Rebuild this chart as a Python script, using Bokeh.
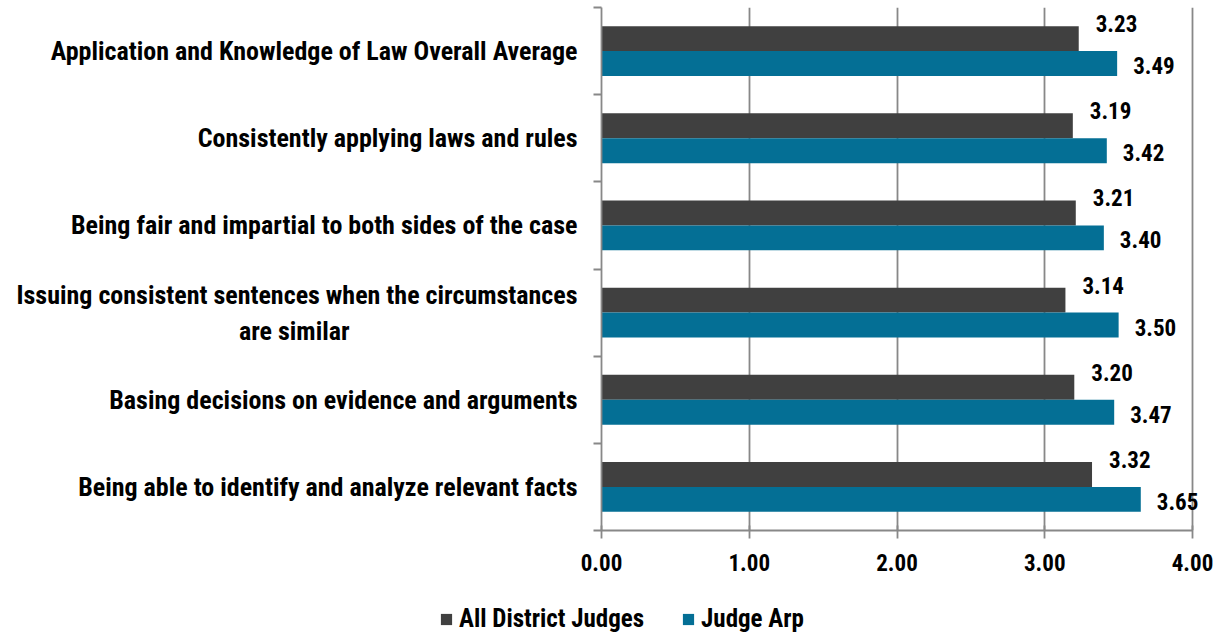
from bokeh.plotting import figure
from bokeh.models import (Range1d, FixedTicker, ColumnDataSource, LabelSet,
                          Legend, LegendItem, NumeralTickFormatter)
from bokeh.core.properties import value
from bokeh.embed import file_html
from bokeh.resources import INLINE

categories = [
    "Application and Knowledge of Law Overall Average",
    "Consistently applying laws and rules",
    "Being fair and impartial to both sides of the case",
    "Issuing consistent sentences when the circumstances\nare similar" + "\u2003" * 10,
    "Basing decisions on evidence and arguments",
    "Being able to identify and analyze relevant facts",
]
all_district = [3.23, 3.19, 3.21, 3.14, 3.20, 3.32]
judge_arp = [3.49, 3.42, 3.40, 3.50, 3.47, 3.65]
series_names = ["All District Judges", "Judge Arp"]
x_ticks = [0, 1, 2, 3, 4]

FONT = "Roboto Condensed"
DARK = "#404040"
TEAL = "#046F95"
GRID = "#888888"

n = len(categories)
centers = [n - i - 0.5 for i in range(n)]
bar_h = 0.286

# frame spans 601..1222 px; the 0..4 scale covers 601..1192 px, labels may run past 4.00
LEFT, AXIS_RIGHT, W = 601, 1192, 1222
x_max = x_ticks[-1] * (W - LEFT) / (AXIS_RIGHT - LEFT)

p = figure(width=W, height=583, output_backend="svg", toolbar_location=None,
           x_range=Range1d(0, x_max), y_range=Range1d(0, n),
           min_border_left=LEFT, min_border_right=0, min_border_top=7, min_border_bottom=53)
p.outline_line_color = None
p.ygrid.visible = False
p.xgrid.ticker = FixedTicker(ticks=x_ticks[1:])
p.xgrid.grid_line_color = GRID
p.xgrid.grid_line_width = 1.8

src = ColumnDataSource(dict(
    y1=[c + bar_h / 2 for c in centers],
    y2=[c - bar_h / 2 for c in centers],
    a=all_district, b=judge_arp,
    la=["%.2f" % v for v in all_district],
    lb=["%.2f" % v for v in judge_arp],
))
r1 = p.hbar(y="y1", right="a", left=0, height=bar_h, source=src, fill_color=DARK, line_color=None)
r2 = p.hbar(y="y2", right="b", left=0, height=bar_h, source=src, fill_color=TEAL, line_color=None)

p.add_layout(LabelSet(x="a", y="y1", text="la", source=src, x_offset=17, y_offset=15,
                      text_font=value(FONT), text_font_style="bold", text_font_size="23px",
                      text_baseline="middle", text_color="black"))
p.add_layout(LabelSet(x="b", y="y2", text="lb", source=src, x_offset=16, y_offset=-2,
                      text_font=value(FONT), text_font_style="bold", text_font_size="23px",
                      text_baseline="middle", text_color="black"))

# x axis
xa = p.xaxis[0]
xa.ticker = FixedTicker(ticks=x_ticks, minor_ticks=[])
xa.bounds = (x_ticks[0], x_ticks[-1])
xa.formatter = NumeralTickFormatter(format="0.00")
xa.axis_line_color = GRID
xa.axis_line_width = 1.8
xa.major_tick_line_color = GRID
xa.major_tick_line_width = 1.8
xa.major_tick_in = 5
xa.major_tick_out = 8
xa.major_label_standoff = 15
xa.major_label_text_font = FONT
xa.major_label_text_font_style = "bold"
xa.major_label_text_font_size = "23px"
xa.major_label_text_color = "black"

# y axis
ya = p.yaxis[0]
ya.ticker = FixedTicker(ticks=centers, minor_ticks=list(range(n + 1)))
ya.major_label_overrides = {c: categories[i] for i, c in enumerate(centers)}
ya.axis_line_color = GRID
ya.axis_line_width = 1.8
ya.major_tick_line_color = None
ya.major_tick_out = 0
ya.major_tick_in = 0
ya.minor_tick_line_color = GRID
ya.minor_tick_line_width = 1.8
ya.minor_tick_out = 8
ya.minor_tick_in = 0
ya.major_label_standoff = 16
ya.major_label_text_font = FONT
ya.major_label_text_font_style = "bold"
ya.major_label_text_font_size = "26px"
ya.major_label_text_color = "black"
ya.major_label_text_align = "right"

# legend strip (separate root so its frame is not aligned with the chart)
lg = figure(width=W, height=50, output_backend="svg", toolbar_location=None,
            x_range=Range1d(0, 1), y_range=Range1d(0, 1),
            min_border_left=0, min_border_right=0, min_border_top=0, min_border_bottom=0)
lg.axis.visible = False
lg.grid.visible = False
lg.outline_line_color = None
# swatch-only renderers: one point each, placed outside the strip's visible range
swatch = ColumnDataSource(dict(y=[-5], right=[-5]))
d1 = lg.hbar(y="y", right="right", left=-6, height=1, source=swatch, fill_color=DARK, line_color=None)
d2 = lg.hbar(y="y", right="right", left=-6, height=1, source=swatch, fill_color=TEAL, line_color=None)
legend = Legend(items=[LegendItem(label=series_names[0], renderers=[d1]),
                       LegendItem(label=series_names[1], renderers=[d2])],
                orientation="horizontal", location=(439, 0),
                label_text_font=FONT, label_text_font_style="bold", label_text_font_size="25px",
                label_text_color="black",
                glyph_width=14, glyph_height=14, spacing=37, border_line_color=None,
                background_fill_alpha=0, margin=0, padding=0, label_standoff=6)
lg.add_layout(legend, "center")

open("out.html", "w").write(file_html([p, lg], INLINE))
